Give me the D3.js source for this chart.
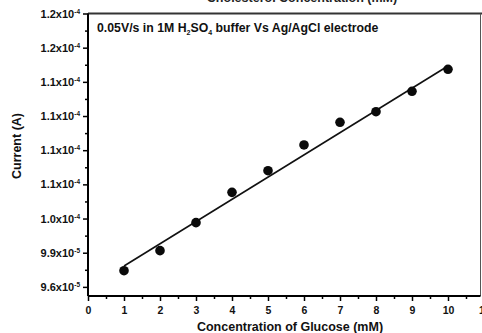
<!DOCTYPE html>
<html>
<head>
<meta charset="utf-8">
<script src="https://cdn.jsdelivr.net/npm/d3@7"></script>
<style>
  body { margin: 0; background: #fff; }
  svg { display: block; font-family: "Liberation Sans", Arial, sans-serif; font-weight: bold; }
</style>
</head>
<body>
<script>
// glucose concentration (mM) and measured current (A)
var conc = [1, 2, 3, 4, 5, 6, 7, 8, 9, 10];
var current = [9.742e-5, 9.918e-5, 1.0164e-4, 1.0430e-4, 1.0620e-4,
               1.0846e-4, 1.1045e-4, 1.1138e-4, 1.1317e-4, 1.1510e-4];

// linear fit at both ends
var fitX = [1, 10];
var fitY = [9.783e-5, 1.1539e-4];

// axis ticks
var xTicks = [0, 1, 2, 3, 4, 5, 6, 7, 8, 9, 10, 11];
var yTicks = [9.6e-5, 9.9e-5, 1.02e-4, 1.05e-4, 1.08e-4, 1.11e-4, 1.14e-4, 1.17e-4, 1.2e-4];
var yTickMant = ['9.6', '9.9', '1.0', '1.1', '1.1', '1.1', '1.1', '1.2', '1.2'];
var yTickExp = ['-5', '-5', '-4', '-4', '-4', '-4', '-4', '-4', '-4'];

var W = 482, H = 333;
var padL = 88, padT = 13.5, padB = 296, frameR = 480.5;

var svg = d3.select('body')
    .append('svg')
    .attr('width', W)
    .attr('height', H);

var x = d3.scaleLinear().domain([0, 11]).range([padL, 484]);
var y = d3.scaleLinear().domain([9.52e-5, 1.2e-4]).range([padB, padT]);

// frame (top and right)
svg.append('line')
    .attr('x1', padL).attr('x2', W).attr('y1', padT).attr('y2', padT)
    .attr('stroke', '#333').attr('stroke-width', 2);
svg.append('line')
    .attr('x1', frameR).attr('x2', frameR).attr('y1', padT).attr('y2', padB)
    .attr('stroke', '#555').attr('stroke-width', 1);

// minor ticks
var xMinor = d3.range(0.5, 11, 1);
var yMinor = yTicks.slice(0, -1).map(function(d) { return d + 1.5e-6; });

svg.append('g')
    .attr('transform', 'translate(0,' + padB + ')')
    .call(d3.axisBottom(x).tickValues(xMinor).tickSize(3).tickFormat(''))
    .call(function(g) { g.select('.domain').remove(); })
    .selectAll('line').attr('stroke-width', 1.5);

svg.append('g')
    .attr('transform', 'translate(' + padL + ',0)')
    .call(d3.axisLeft(y).tickValues(yMinor).tickSize(3).tickFormat(''))
    .call(function(g) { g.select('.domain').remove(); })
    .selectAll('line').attr('stroke-width', 1.5);

// x axis
var gx = svg.append('g')
    .attr('transform', 'translate(0,' + padB + ')')
    .call(d3.axisBottom(x).tickValues(xTicks).tickSize(5).tickSizeOuter(0).tickPadding(6)
        .tickFormat(d3.format('d')));
gx.select('.domain').attr('stroke-width', 2).attr('d', 'M' + padL + ',0H' + frameR);
gx.selectAll('line').attr('stroke-width', 1.5);
gx.selectAll('text')
    .attr('font-size', 10.5)
    .attr('font-family', '"Liberation Sans", Arial, sans-serif')
    .attr('font-weight', 'bold')
    .attr('fill', '#111');

// y axis
var gy = svg.append('g')
    .attr('transform', 'translate(' + padL + ',0)')
    .call(d3.axisLeft(y).tickValues(yTicks).tickSize(5).tickSizeOuter(0)
        .tickFormat(''));
gy.select('.domain').attr('stroke-width', 2).attr('d', 'M0,' + padT + 'V' + padB);
gy.selectAll('line').attr('stroke-width', 1.5);
gy.selectAll('.tick').each(function(d, i) {
    var t = d3.select(this).select('text')
        .attr('font-size', 11)
        .attr('font-family', '"Liberation Sans", Arial, sans-serif')
        .attr('font-weight', 'bold')
        .attr('fill', '#111')
        .attr('x', -8);
    t.append('tspan').text(yTickMant[i] + 'x10');
    t.append('tspan').attr('font-size', 6.5).attr('dy', -4).text(yTickExp[i]);
});

// fit line
svg.append('path')
    .datum(d3.zip(fitX, fitY))
    .attr('d', d3.line()
        .x(function(d) { return x(d[0]); })
        .y(function(d) { return y(d[1]); }))
    .attr('fill', 'none')
    .attr('stroke', '#111')
    .attr('stroke-width', 1.6);

// data points
svg.append('g')
    .selectAll('circle')
    .data(d3.zip(conc, current))
    .join('circle')
    .attr('cx', function(d) { return x(d[0]); })
    .attr('cy', function(d) { return y(d[1]); })
    .attr('r', 4.8)
    .attr('fill', '#0a0a0a');

// annotation
var note = svg.append('text')
    .attr('x', 97)
    .attr('y', 32)
    .attr('font-size', 12.3)
    .attr('fill', '#111');
note.append('tspan').text('0.05V/s in 1M H');
note.append('tspan').attr('font-size', 7).attr('dy', 3).text('2');
note.append('tspan').attr('dy', -3).text('SO');
note.append('tspan').attr('font-size', 7).attr('dy', 3).text('4');
note.append('tspan').attr('dy', -3).text(' buffer Vs Ag/AgCl electrode');

// axis titles
svg.append('text')
    .attr('x', 290)
    .attr('y', 331)
    .attr('font-size', 12.5)
    .attr('fill', '#111')
    .style('text-anchor', 'middle')
    .text('Concentration of Glucose (mM)');

svg.append('text')
    .attr('transform', 'translate(21,146) rotate(-90)')
    .attr('font-size', 12.5)
    .attr('fill', '#111')
    .style('text-anchor', 'middle')
    .text('Current (A)');

// cut-off title of the panel above
svg.append('text')
    .attr('x', 302)
    .attr('y', 1.5)
    .attr('font-size', 12.5)
    .attr('fill', '#222')
    .style('text-anchor', 'middle')
    .text('Cholesterol Concentration (mM)');
</script>
</body>
</html>
